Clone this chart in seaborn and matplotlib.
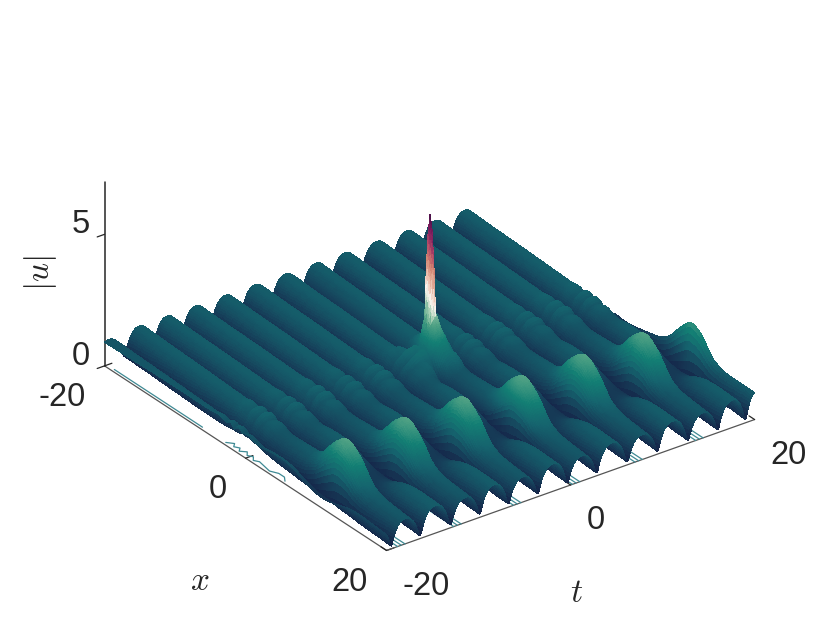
import numpy as np
import matplotlib
matplotlib.use("Agg")
import matplotlib.pyplot as plt
from matplotlib.colors import Normalize
import seaborn as sns

# NOTE: the source data of this surface is not available. The heights below are
# estimates at control stations; the dense mesh is
# resampled from them, so it approximates the shape and is not the original field.

# Ridge crest positions in t, read at the rear (x=-20) and front (x=20) edges
ridge_t_back = [-19.5, -16.2, -13.2, -10.1, -6.85, -3.6, -0.3, 3.0, 6.1, 9.6, 12.9, 15.9, 19.2, 22.0]
ridge_t_front = [-21.0, -18.0, -14.7, -11.4, -8.3, -5.2, -1.9, 1.2, 4.5, 7.8, 11.1, 14.4, 17.6, 20.4]

# x stations at which crest heights were read
x_stations = [-20, -16, -12, -8, -6, -4.5, -3.5, -2.8, -2.2, -1.6, -1, -0.4, 0.2, 1, 2, 3.5, 5, 6.5, 8, 9.5, 11, 12.5, 14, 15.5, 17, 20]
# Crest height of ridges that carry a breather bump near x=11
crest_bump = [1.05, 1.05, 1.07, 1.07, 1.07, 1.07, 1.18, 0.92, 1.22, 0.9, 1.22, 0.92, 1.16, 0.96, 0.9, 0.95, 1.0, 1.05, 1.35, 2.0, 2.42, 2.05, 1.3, 1.05, 1.0, 0.95]
# Crest height of the ridges in between
crest_plain = [1.05, 1.05, 1.07, 1.07, 1.07, 1.07, 1.16, 0.9, 1.2, 0.9, 1.2, 0.92, 1.14, 0.96, 0.9, 1.0, 1.05, 1.0, 0.74, 0.52, 0.47, 0.58, 0.84, 1.0, 1.05, 1.05]
# Height of the valley floor between ridges
valley_floor = [0.0, 0.02, 0.03, 0.05, 0.08, 0.12, 0.18, 0.22, 0.28, 0.3, 0.3, 0.28, 0.25, 0.2, 0.15, 0.1, 0.08, 0.06, 0.08, 0.12, 0.15, 0.1, 0.04, 0.0, 0.0, 0.0]
# Ridge kind (1 = bump ridge) and scale of the bump, ridge by ridge
ridge_kind = [0, 1, 0, 1, 0, 1, 0, 1, 0, 1, 0, 1, 0, 1]
ridge_scale = [0.9, 1.0, 1.0, 1.0, 1.0, 1.0, 1.0, 1.0, 1.0, 1.0, 1.0, 1.0, 1.0, 1.15]
# Crest-to-valley cross-section, read from the front edge notches
profile_s = [0.0, 0.15, 0.3, 0.5, 0.7, 0.85, 1.0]
profile_v = [0.0, 0.36, 0.62, 0.84, 0.95, 0.99, 1.0]

# Rogue peak: position, extra height of skirt and spike, half-widths
rogue_x, rogue_t = -1.5, 1.2
skirt_height, skirt_wx, skirt_wt = 2.2, 3.5, 2.6
spike_height, spike_wx, spike_wt = 3.4, 0.55, 0.42

# Contour traces on the floor
floor_t_short = [-18.4, -12.3, -5.8, 0.6, 7.4, 14.0]
floor_offsets = [-0.4, 0.0, 0.4]
floor_x_short = [14.0, 20.0]
floor_left_x = [-19.0, -6.5]
floor_left_t = [-19.7, -19.7]
floor_wig_x = [-3.2, -2.6, -2.2, -1.7, -1.3, -0.8, -0.3, 0.2, 0.7, 1.2, 3.0, 3.8, 4.6, 5.2]
floor_wig_t = [-19.7, -19.2, -19.6, -19.3, -19.7, -19.2, -19.6, -19.3, -19.7, -19.4, -19.7, -19.3, -19.3, -19.7]

tick_pos = [-20, 0, 20]
tick_labels = ["-20", "0", "20"]
z_ticks = [0, 5]
z_labels = ["0", "5"]

curl_colors = ["#151d44", "#16405a", "#15646e", "#137f74", "#4fa184", "#a3cdb2", "#fbf3ee",
               "#e7b8a4", "#cf806f", "#b24a67", "#7e1c5e", "#4a1048"]

sns.set_theme(style="white")
plt.rcParams["font.family"] = ["Liberation Sans", "DejaVu Sans"]
plt.rcParams["mathtext.fontset"] = "cm"

# Dense mesh resampled from the control values
x_mesh = np.union1d(np.arange(-20, 20.01, 0.16), np.arange(-2.6, -0.39, 0.05))
t_mesh = np.union1d(np.arange(-20, 20.01, 0.1), np.arange(0.5, 1.91, 0.04))
back, front = np.array(ridge_t_back), np.array(ridge_t_front)
T, X = np.meshgrid(t_mesh, x_mesh)
Z = np.zeros_like(T)
for i, xv in enumerate(x_mesh):
    w = (xv + 20) / 40
    c = back + (front - back) * w
    hb = np.interp(xv, x_stations, crest_bump)
    hp = np.interp(xv, x_stations, crest_plain)
    floor = np.interp(xv, x_stations, valley_floor)
    h = np.where(np.array(ridge_kind) == 1, hb, hp) * np.array(ridge_scale)
    edges = np.concatenate([[c[0] - 1.6], (c[:-1] + c[1:]) / 2, [c[-1] + 1.6]])
    k = np.clip(np.searchsorted(edges, t_mesh) - 1, 0, len(c) - 1)
    half = np.where(t_mesh < c[k], c[k] - edges[k], edges[k + 1] - c[k])
    s = 1 - np.abs(t_mesh - c[k]) / half
    Z[i] = floor + (h[k] - floor) * np.interp(s, profile_s, profile_v)


def smooth(field, n, axis):
    kern = np.ones(n) / n
    return np.apply_along_axis(lambda v: np.convolve(np.pad(v, n // 2, mode="edge"), kern, "valid"), axis, field)


Z = smooth(Z, 3, 1)
Z = smooth(Z, 7, 0)

rs = np.hypot((X - rogue_x) / skirt_wx, (T - rogue_t) / skirt_wt)
Z = Z + skirt_height * np.interp(rs, [0, 0.15, 0.35, 0.6, 1.0], [1.0, 0.72, 0.36, 0.14, 0.0])
rp = np.hypot((X - rogue_x) / spike_wx, (T - rogue_t) / spike_wt)
Z = Z + spike_height * np.interp(rp, [0, 0.4, 0.75, 1.0], [1.0, 0.85, 0.45, 0.0])

cmap = sns.blend_palette(curl_colors, as_cmap=True)
face_rgba = cmap(Normalize(0, 6.4)(Z))

fig = plt.figure(figsize=(8.3, 6.23), dpi=100, facecolor="white")
S = 672
ax = fig.add_axes([(420.5 - S / 2) / 830, (313.3 - S / 2) / 623, S / 830, S / 623], projection="3d",
                  proj_type="ortho", computed_zorder=False)
ax.view_init(elev=28.85, azim=-36.4)
ax.set_box_aspect((471.5, 453.6, 208.6), zoom=1.0)
ax.set_xlim(-20, 20)
ax.set_ylim(-20, 20)
ax.set_zlim(0, 7)

floor_col = "#3f8a94"
for tc in floor_t_short:
    for off in floor_offsets:
        ax.plot(floor_x_short, [tc + off] * 2, [0, 0], color=floor_col, lw=0.9, zorder=1)
ax.plot(floor_left_x, floor_left_t, [0, 0], color=floor_col, lw=0.9, zorder=1)
ax.plot(floor_wig_x, floor_wig_t, [0] * len(floor_wig_x), color=floor_col, lw=0.9, zorder=1)

ax.plot_surface(X, T, Z, rstride=1, cstride=1, facecolors=face_rgba,
                linewidth=0, antialiased=False, shade=False, zorder=2)

ax.set_xticks(tick_pos, tick_labels)
ax.set_yticks(tick_pos, tick_labels)
ax.set_zticks(z_ticks, z_labels)
ax.tick_params(axis="both", labelsize=23.5, labelcolor="#262626")
ax.tick_params(axis="x", pad=5)
ax.tick_params(axis="y", pad=6)
ax.tick_params(axis="z", pad=-2.2)
ax.zaxis.set_ticks_position("lower")
for lab in ax.get_xticklabels():
    lab.set_ha("right")
for lab in ax.get_yticklabels():
    lab.set_ha("left")
for lab in ax.get_zticklabels():
    lab.set_ha("right")
    lab.set_va("baseline")
ax.grid(False)
for a in (ax.xaxis, ax.yaxis, ax.zaxis):
    a.set_pane_color((1, 1, 1, 0))
    a.pane.set_edgecolor((1, 1, 1, 0))
    a.line.set_color("#555555")
    a.line.set_linewidth(0.9)
    a._axinfo["tick"]["color"] = "#555555"
    a._axinfo["tick"]["linewidth"] = {True: 0.9, False: 0.5}
    a._axinfo["tick"]["inward_factor"] = 0.0
    a._axinfo["tick"]["outward_factor"] = 0.25
ax.zaxis.line.set_color("#262626")
ax.zaxis.line.set_linewidth(1.1)
ax.zaxis._axinfo["tick"]["inward_factor"] = 0.25
ax.zaxis._axinfo["tick"]["outward_factor"] = 0.0

fig.text(200 / 830, 1 - 582 / 623, r"$x$", fontsize=24, color="#262626", ha="center", va="center")
fig.text(577 / 830, 1 - 594 / 623, r"$t$", fontsize=24, color="#262626", ha="center", va="center")
fig.text(40 / 830, 1 - 273 / 623, r"$|u|$", fontsize=24, color="#262626", ha="center", va="center", rotation=90)

fig.savefig("out.png", dpi=100, facecolor="white")
